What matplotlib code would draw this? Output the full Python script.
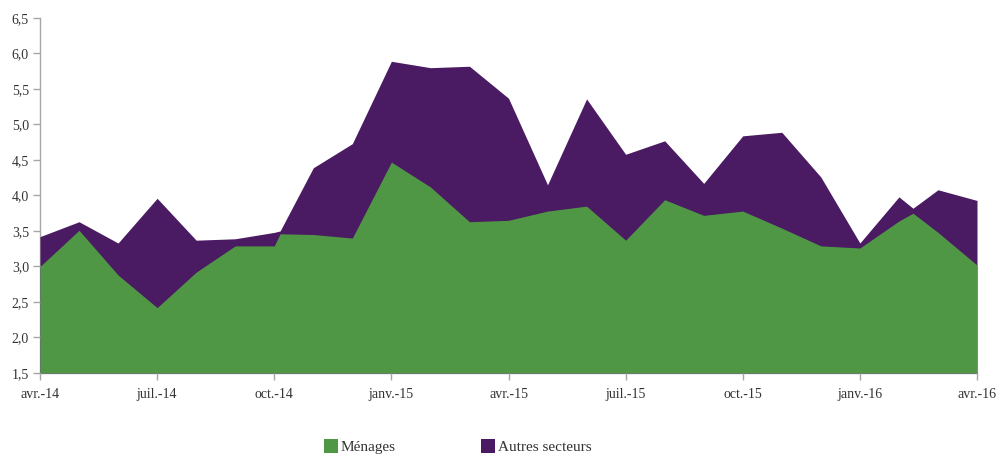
import matplotlib.pyplot as plt
from matplotlib.patches import Patch

# positions in months from avr.-14 (two extra intermediate points in the source series)
x = [0, 1, 2, 3, 4, 5, 6, 6.15, 7, 8, 9, 10, 11, 12, 13, 14, 15, 16, 17, 18,
     19, 20, 21, 22, 22.36, 23, 24]

autres = [3.42, 3.63, 3.33, 3.96, 3.37, 3.39, 3.48, 3.50, 4.39, 4.73, 5.89, 5.80,
          5.82, 5.37, 4.15, 5.36, 4.58, 4.77, 4.17, 4.84, 4.89, 4.26, 3.33, 3.98,
          3.82, 4.08, 3.93]
menages = [3.00, 3.51, 2.88, 2.42, 2.92, 3.29, 3.29, 3.46, 3.45, 3.40, 4.47, 4.12,
           3.63, 3.65, 3.78, 3.85, 3.37, 3.94, 3.72, 3.78, 3.54, 3.29, 3.26, 3.64,
           3.75, 3.48, 3.02]

tick_pos = [0, 3, 6, 9, 12, 15, 18, 21, 24]
tick_labels = ['avr.-14', 'juil.-14', 'oct.-14', 'janv.-15', 'avr.-15',
               'juil.-15', 'oct.-15', 'janv.-16', 'avr.-16']
yticks = [1.5, 2.0, 2.5, 3.0, 3.5, 4.0, 4.5, 5.0, 5.5, 6.0, 6.5]

green = '#4f9745'
purple = '#4a1a62'
grey = '#a6a6a6'
txt = '#333333'

plt.rcParams['font.family'] = ['Liberation Serif', 'DejaVu Serif']

fig = plt.figure(figsize=(10, 4.61), dpi=100)
ax = fig.add_axes([0.04, 0.191, 0.937, 0.770])

ax.fill_between(x, 1.5, autres, color=purple, linewidth=0)
ax.fill_between(x, 1.5, menages, color=green, linewidth=0)

ax.set_xlim(0, 24)
ax.set_ylim(1.5, 6.5)
ax.set_xticks(tick_pos)
ax.set_xticklabels(tick_labels)
ax.set_yticks(yticks)
ax.set_yticklabels([('%.1f' % v).replace('.', ',') for v in yticks])

for s in ['top', 'right']:
    ax.spines[s].set_visible(False)
for s in ['left', 'bottom']:
    ax.spines[s].set_color(grey)
    ax.spines[s].set_linewidth(1)
    ax.spines[s].set_zorder(0.5)
ax.tick_params(axis='both', direction='out', length=5, color=grey, width=1,
               labelsize=10, labelcolor=txt)
ax.tick_params(axis='x', pad=6)
ax.tick_params(axis='y', pad=3)

handles = [Patch(facecolor=green, label='Ménages'),
           Patch(facecolor=purple, label='Autres secteurs')]
fig.legend(handles=handles, loc='lower center', bbox_to_anchor=(0.458, -0.015),
           ncol=2, frameon=False, fontsize=11, handlelength=0.9, handleheight=1.0,
           handletextpad=0.2, columnspacing=5.6, labelcolor=txt)

fig.savefig('out.png', dpi=100)
